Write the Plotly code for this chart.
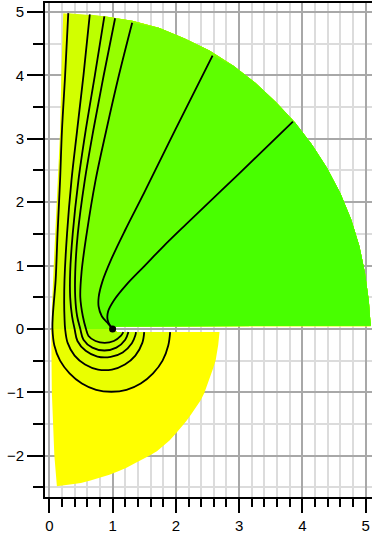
import plotly.graph_objects as go

# ---- domain outline ----------------------------------------------------
# left edge of the upper sector, bottom to top
upper_left_x = [0.04, 0.04, 0.07, 0.12, 0.17, 0.19, 0.21]
upper_left_y = [0.00, 0.30, 1.00, 2.00, 3.10, 4.00, 4.98]
# outer arc of the upper sector, right to left
arc_x = [5.08, 5.05, 4.99, 4.90, 4.77, 4.60, 4.39, 4.15, 3.88, 3.58, 3.26, 2.91,
         2.53, 2.14, 1.73, 1.31, 0.87, 0.43, 0.22]
arc_y = [0.05, 0.44, 0.88, 1.31, 1.73, 2.14, 2.54, 2.91, 3.26, 3.58, 3.88, 4.15,
         4.39, 4.58, 4.75, 4.86, 4.93, 4.96, 4.98]
# lower lobe outline: left edge top to bottom, then outer arc up to the cut
lower_x = [0.03, 0.03, 0.04, 0.06, 0.08, 0.12, 0.30, 0.50, 0.65, 0.80, 0.95, 1.10,
           1.22, 1.33, 1.45, 1.58, 1.70, 1.80, 1.90, 2.00, 2.08, 2.16, 2.24, 2.32,
           2.39, 2.45, 2.50, 2.55, 2.59, 2.63, 2.65, 2.67, 2.69]
lower_y = [0.00, -0.50, -1.00, -1.50, -2.00, -2.48, -2.46, -2.43, -2.39, -2.35, -2.30, -2.24,
           -2.19, -2.13, -2.07, -2.00, -1.93, -1.85, -1.76, -1.65, -1.56, -1.46, -1.35, -1.24,
           -1.13, -1.01, -0.88, -0.75, -0.62, -0.49, -0.37, -0.25, -0.05]
# branch cut along the positive axis from the singular point
center = (1.0, 0.0)
cut_start = 1.07
cut_upper = 0.04
cut_lower = -0.05

# ---- contour lines -----------------------------------------------------
# lines 1..5: descend on the left, wrap below the centre, end on the cut
l1_up_x = [0.30, 0.25, 0.20, 0.17, 0.13, 0.10, 0.07, 0.055, 0.05]
l1_up_y = [4.98, 4.00, 3.13, 2.34, 1.50, 0.77, 0.40, 0.20, 0.00]
l1_lo_x = [0.05, 0.08, 0.17, 0.32, 0.515, 0.74, 0.98, 1.22, 1.445, 1.64, 1.79, 1.88, 1.91]
l1_lo_y = [0.00, -0.26, -0.50, -0.70, -0.86, -0.96, -0.99, -0.96, -0.86, -0.70, -0.50, -0.26, -0.05]

l2_up_x = [0.64, 0.54, 0.44, 0.35, 0.28, 0.24, 0.235, 0.24, 0.25]
l2_up_y = [4.96, 4.00, 3.13, 2.34, 1.50, 0.77, 0.40, 0.18, 0.00]
l2_lo_x = [0.25, 0.29, 0.40, 0.565, 0.77, 0.99, 1.195, 1.36, 1.47, 1.50]
l2_lo_y = [0.00, -0.22, -0.42, -0.56, -0.64, -0.64, -0.56, -0.42, -0.22, -0.05]

l3_up_x = [0.87, 0.72, 0.575, 0.46, 0.37, 0.33, 0.33, 0.36, 0.40]
l3_up_y = [4.93, 4.00, 3.13, 2.34, 1.50, 0.90, 0.50, 0.20, 0.00]
l3_lo_x = [0.40, 0.445, 0.575, 0.76, 0.97, 1.16, 1.305, 1.36, 1.37]
l3_lo_y = [0.00, -0.19, -0.345, -0.435, -0.44, -0.37, -0.225, -0.10, -0.05]

l4_up_x = [1.04, 0.86, 0.695, 0.56, 0.45, 0.41, 0.41, 0.44, 0.49]
l4_up_y = [4.90, 4.00, 3.13, 2.34, 1.50, 0.90, 0.50, 0.20, 0.00]
l4_lo_x = [0.49, 0.54, 0.68, 0.87, 1.06, 1.20, 1.25]
l4_lo_y = [0.00, -0.17, -0.295, -0.34, -0.295, -0.17, -0.05]

l5_up_x = [1.31, 1.10, 0.90, 0.73, 0.59, 0.51, 0.49, 0.53, 0.58]
l5_up_y = [4.83, 4.00, 3.13, 2.34, 1.50, 0.90, 0.50, 0.20, 0.00]
l5_lo_x = [0.58, 0.62, 0.73, 0.875, 1.02, 1.13, 1.17]
l5_lo_y = [0.00, -0.11, -0.19, -0.22, -0.19, -0.11, -0.05]

# lines A, B: run in from the outer arc and spiral into the centre
lA_x = [2.58, 2.00, 1.50, 1.20, 0.98, 0.84, 0.78, 0.78, 0.83, 0.93, 0.98, 1.00]
lA_y = [4.31, 3.16, 2.15, 1.56, 1.10, 0.75, 0.50, 0.35, 0.20, 0.085, 0.03, 0.00]
lB_x = [3.85, 3.00, 2.16, 1.80, 1.51, 1.22, 1.02, 0.93, 0.92, 0.96, 1.00]
lB_y = [3.27, 2.45, 1.65, 1.30, 1.00, 0.70, 0.45, 0.28, 0.15, 0.05, 0.00]

# band colours, from the yellow outer edge to the green right side
lower_outer_color = "#ffff00"
upper_outer_color = "#eaff00"
upper_band_colors = ["#d2ff00", "#bcff00", "#a8ff00", "#96ff00", "#78ff00"]
lower_band_colors = ["#eaff00", "#deff00", "#d2ff00", "#c4ff00", "#b2ff00"]
band_A_color = "#5eff00"
band_B_color = "#48ff00"

upper_lines = [(l1_up_x, l1_up_y), (l2_up_x, l2_up_y), (l3_up_x, l3_up_y),
               (l4_up_x, l4_up_y), (l5_up_x, l5_up_y)]
lower_lines = [(l1_lo_x, l1_lo_y), (l2_lo_x, l2_lo_y), (l3_lo_x, l3_lo_y),
               (l4_lo_x, l4_lo_y), (l5_lo_x, l5_lo_y)]

fig = go.Figure()


def add_fill(xs, ys, color):
    fig.add_trace(go.Scatter(x=xs + [xs[0]], y=ys + [ys[0]], mode="lines",
                             fill="toself", fillcolor=color,
                             line=dict(width=0, color=color),
                             hoverinfo="skip", showlegend=False))


# lower lobe base
lx = lower_x + [cut_start, center[0]]
ly = lower_y + [cut_lower, center[1]]
add_fill(lx, ly, lower_outer_color)

# bowls below the axis, enclosed by each wrapped line
for (xs, ys), col in zip(lower_lines, lower_band_colors):
    bx = list(xs) + [cut_start, center[0]]
    by = list(ys) + [cut_lower, center[1]]
    add_fill(bx, by, col)

# upper sector base
ux = upper_left_x + arc_x[::-1] + [arc_x[0], cut_start, center[0]]
uy = upper_left_y + arc_y[::-1] + [cut_upper, cut_upper, center[1]]
add_fill(ux, uy, upper_outer_color)


def right_of(line_x, line_y, col):
    top_x = line_x[0]
    ax = [x for x in arc_x if x > top_x + 1e-6]
    ay = [y for x, y in zip(arc_x, arc_y) if x > top_x + 1e-6]
    tail_x = [] if line_x[-1] == center[0] else [center[0]]
    tail_y = [] if line_x[-1] == center[0] else [center[1]]
    px = list(line_x) + tail_x + [cut_start] + ax
    py = list(line_y) + tail_y + [cut_upper] + ay
    add_fill(px, py, col)


for (xs, ys), col in zip(upper_lines, upper_band_colors):
    right_of(xs, ys, col)
right_of(lA_x, lA_y, band_A_color)
right_of(lB_x, lB_y, band_B_color)

# contour lines
line_style = dict(color="black", width=1.8, shape="spline", smoothing=1.0)
for (ux_, uy_), (lx_, ly_) in zip(upper_lines, lower_lines):
    fig.add_trace(go.Scatter(x=ux_ + lx_[1:], y=uy_ + ly_[1:], mode="lines",
                             line=line_style, hoverinfo="skip", showlegend=False))
for xs, ys in [(lA_x, lA_y), (lB_x, lB_y)]:
    fig.add_trace(go.Scatter(x=xs, y=ys, mode="lines",
                             line=line_style, hoverinfo="skip", showlegend=False))
fig.add_trace(go.Scatter(x=[center[0]], y=[center[1]], mode="markers",
                         marker=dict(color="black", size=7),
                         hoverinfo="skip", showlegend=False))

axis_font = dict(family="Liberation Sans, Arial, sans-serif", size=15, color="black")
fig.update_layout(
    width=372, height=542,
    margin=dict(l=45, r=0, t=3, b=45),
    paper_bgcolor="white", plot_bgcolor="white",
    showlegend=False,
    xaxis=dict(range=[-0.068, 5.1], tick0=0, dtick=1, ticks="outside",
               ticklen=14, tickwidth=1.5, tickcolor="black",
               showline=True, linecolor="black", linewidth=2, mirror=True,
               showgrid=True, gridcolor="#a8a8a8", gridwidth=1.5,
               zeroline=False, tickfont=axis_font,
               minor=dict(dtick=0.2, ticks="outside", ticklen=8, tickwidth=1.5,
                          tickcolor="black", showgrid=True,
                          gridcolor="#dcdcdc", gridwidth=2)),
    yaxis=dict(range=[-2.65, 5.14], tick0=0, dtick=1, ticks="outside",
               ticklen=16, tickwidth=1.5, tickcolor="black",
               showline=True, linecolor="black", linewidth=2,
               showgrid=True, gridcolor="#a8a8a8", gridwidth=1.5,
               zeroline=False, tickfont=axis_font,
               minor=dict(dtick=0.5, ticks="outside", ticklen=10, tickwidth=1.5,
                          tickcolor="black", showgrid=True,
                          gridcolor="#dcdcdc", gridwidth=2)),
)

fig.write_html("out.html")
